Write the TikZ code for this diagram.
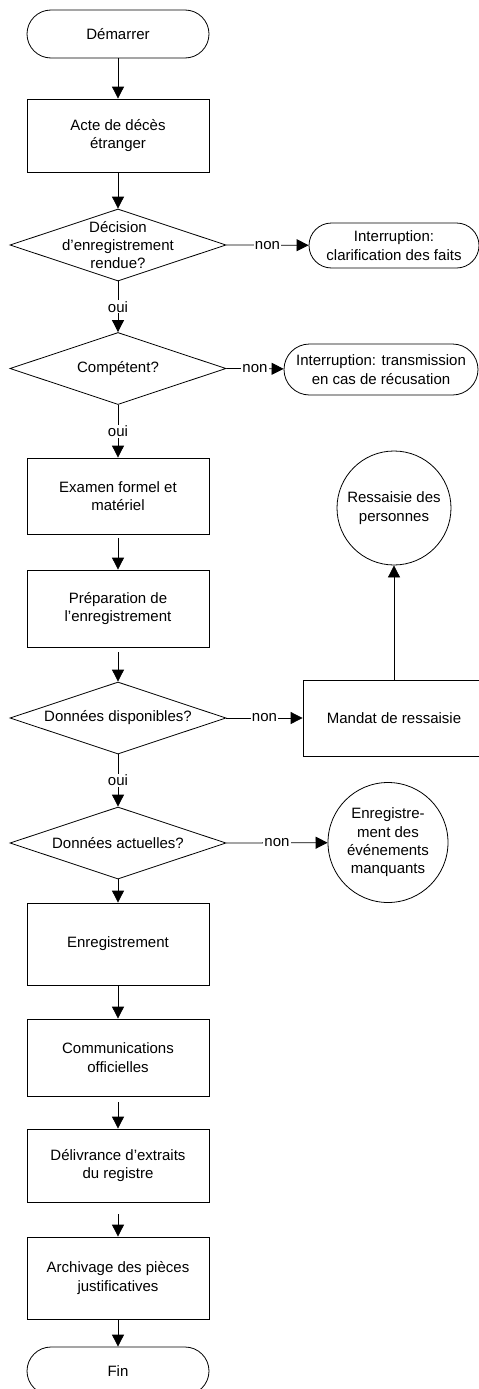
\documentclass[tikz,border=0pt]{standalone}
\usepackage{fontspec}
\setmainfont{Liberation Sans}
\usetikzlibrary{shapes.geometric,arrows.meta}

\begin{document}
\begin{tikzpicture}[x=1pt,y=-1pt, line width=0.8pt,
	every node/.style={font=\fontsize{15}{18.3}\selectfont, align=center},
	terminal/.style={draw, rectangle, rounded corners=24pt, minimum width=182pt, minimum height=48pt, inner sep=0pt},
	stopbox/.style={draw, rectangle, inner sep=0pt},
	process/.style={draw, rectangle, minimum width=182pt, inner sep=0pt},
	decision/.style={draw, diamond, minimum width=216pt, minimum height=72pt, inner sep=0pt},
	roundbox/.style={draw, circle, inner sep=0pt},
	arr/.style={draw, -{Triangle[length=12pt,width=12pt]}},
	lbl/.style={fill=white, inner sep=1pt}]
			\useasboundingbox (0,0) rectangle (479,1389);
			\node[terminal] (start) at (118,34) {Démarrer};
			\node[process, minimum height=73pt] (acte) at (118,135.5) {Acte de décès\\étranger};
			\node[decision] (dec1) at (118,245) {};
			\node (dec1t) at (dec1) {Décision\\d’enregistrement\\rendue?};
			\node[stopbox, rounded corners=22.5pt, minimum width=170pt, minimum height=45pt] (stop1) at (394,245.5) {Interruption:\\clarification des faits};
			\node[decision] (dec2) at (118,368.5) {};
			\node (dec2t) at (dec2) {Compétent?};
			\node[stopbox, rounded corners=25.5pt, minimum width=194pt, minimum height=51pt] (stop2) at (381,369.5) {Interruption: transmission\\en cas de récusation};
			\node[process, minimum height=76pt] (exam) at (118,496) {Examen formel et\\matériel};
			\node[process, minimum height=77pt] (prep) at (118,608.5) {Préparation de\\l’enregistrement};
			\node[decision] (dec3) at (118,718) {};
			\node (dec3t) at (dec3) {Données disponibles?};
			\node[process, minimum height=76pt] (mandat) at (394,718) {Mandat de ressaisie};
			\node[roundbox, minimum size=114pt] (ressaisie) at (394,508) {Ressaisie des\\personnes};
			\node[decision] (dec4) at (118,843) {};
			\node (dec4t) at (dec4) {Données actuelles?};
			\node[roundbox, minimum size=120pt] (manquants) at (388,842.5) {Enregistre-\\ment des\\événements\\manquants};
			\node[process, minimum height=82pt] (enreg) at (118,944) {Enregistrement};
			\node[process, minimum height=77pt] (comm) at (118,1057.5) {Communications\\officielles};
			\node[process, minimum height=73pt] (deliv) at (118,1165.5) {Délivrance d’extraits\\du registre};
			\node[process, minimum height=82pt] (arch) at (118,1278) {Archivage des pièces\\justificatives};
			\node[terminal] (fin) at (118,1371) {Fin};
			\draw[arr] (start) -- (acte);
			\draw[arr] (acte) -- (dec1);
			\draw[arr] (dec1.east) -- node[lbl] {non} (stop1);
			\draw[arr] (dec1.south) -- node[lbl] {oui} (dec2.north);
			\draw[arr] (dec2.east) -- node[lbl] {non} (stop2);
			\draw[arr] (dec2.south) -- node[lbl] {oui} (exam);
			\draw[arr, shorten <=4pt] (exam) -- (prep);
			\draw[arr, shorten <=5pt] (prep) -- (dec3.north);
			\draw[arr] (dec3.east) -- node[lbl] {non} (mandat);
			\draw[arr] (mandat) -- (ressaisie);
			\draw[arr] (dec3.south) -- node[lbl] {oui} (dec4.north);
			\draw[arr] (dec4.east) -- node[lbl] {non} (manquants);
			\draw[arr] (dec4.south) -- (enreg);
			\draw[arr] (enreg) -- (comm);
			\draw[arr, shorten <=6pt] (comm) -- (deliv);
			\draw[arr, shorten <=12pt] (deliv) -- (arch);
			\draw[arr] (arch) -- (fin);
		\end{tikzpicture}
\end{document}
